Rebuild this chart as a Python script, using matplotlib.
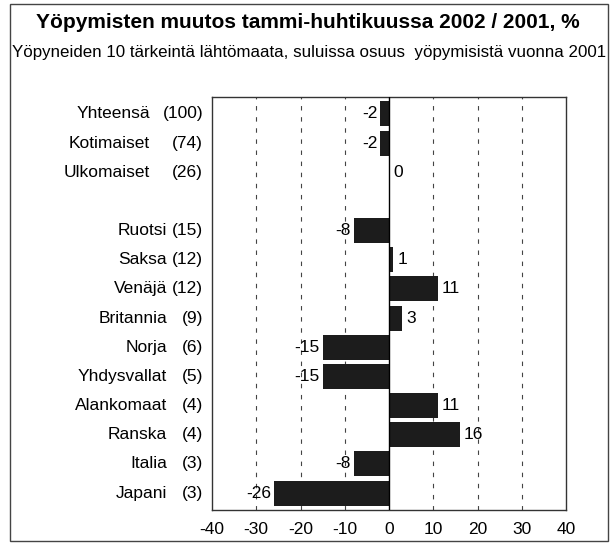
import matplotlib
matplotlib.use("Agg")
import numpy as np
from matplotlib import pyplot as plt
from matplotlib import transforms
from matplotlib.patches import Rectangle

# Data
names = ["Yhteensä", "Kotimaiset", "Ulkomaiset",
         "Ruotsi", "Saksa", "Venäjä", "Britannia", "Norja", "Yhdysvallat",
         "Alankomaat", "Ranska", "Italia", "Japani"]
shares = ["(100)", "(74)", "(26)",
          "(15)", "(12)", "(12)", "(9)", "(6)", "(5)",
          "(4)", "(4)", "(3)", "(3)"]
changes = [-2, -2, 0, -8, 1, 11, 3, -15, -15, 11, 16, -8, -26]
# row slots, with an empty slot between the totals and the countries
rows = [0, 1, 2, 4, 5, 6, 7, 8, 9, 10, 11, 12, 13]

title = "Yöpymisten muutos tammi-huhtikuussa 2002 / 2001, %"
subtitle = "Yöpyneiden 10 tärkeintä lähtömaata, suluissa osuus  yöpymisistä vuonna 2001"

W, H = 612, 543
fam = ["Liberation Sans Narrow", "Liberation Sans", "DejaVu Sans"]
plt.rcParams["axes.unicode_minus"] = False

fig = plt.figure(figsize=(W / 100, H / 100), dpi=100)

# outer frame
fig.patches.append(Rectangle((10 / W, 1 - 541 / H), 598 / W, 537 / H,
                             transform=fig.transFigure, fill=False,
                             edgecolor="#444444", lw=1))

fig.text(308 / W, 1 - 22 / H, title, ha="center", va="center",
         fontsize=15, fontweight="bold", family=["Liberation Sans", "DejaVu Sans"])
fig.text(309 / W, 1 - 52 / H, subtitle, ha="center", va="center",
         fontsize=12.2, family=fam)

ax = fig.add_axes([212 / W, 1 - 510 / H, 354 / W, 413 / H])
ax.set_xlim(-40, 40)
ax.set_ylim(13.58, -0.58)

# dashed grid lines
for g in [-30, -20, -10, 10, 20, 30]:
    ax.axvline(g, color="#444444", lw=0.8, ls=(0, (4, 6)), zorder=1)
ax.axvline(0, color="black", lw=1, zorder=3)

ax.barh(rows, changes, height=0.86, color="#1c1c1c", zorder=2)

for r, v in zip(rows, changes):
    if v < 0:
        ax.text(v - 0.6, r, str(v), ha="right", va="center", fontsize=12.5, family=fam)
    else:
        ax.text(v + 0.9, r, str(v), ha="left", va="center", fontsize=12.5, family=fam)

# row labels: name and share columns
trans = transforms.blended_transform_factory(fig.transFigure, ax.transData)
for i, (r, n, s) in enumerate(zip(rows, names, shares)):
    name_x = 150 if i < 3 else 167
    ax.text(name_x / W, r, n, transform=trans, ha="right", va="center",
            fontsize=12.5, family=fam)
    ax.text(203 / W, r, s, transform=trans, ha="right", va="center",
            fontsize=12.5, family=fam)

ax.set_yticks([])
ax.set_xticks(np.arange(-40, 41, 10))
ax.tick_params(axis="x", length=0, pad=9, labelsize=12.5)
for lab in ax.get_xticklabels():
    lab.set_family(fam)
for sp in ax.spines.values():
    sp.set_color("#333333")
    sp.set_linewidth(1)

fig.savefig("out.png", dpi=100)
